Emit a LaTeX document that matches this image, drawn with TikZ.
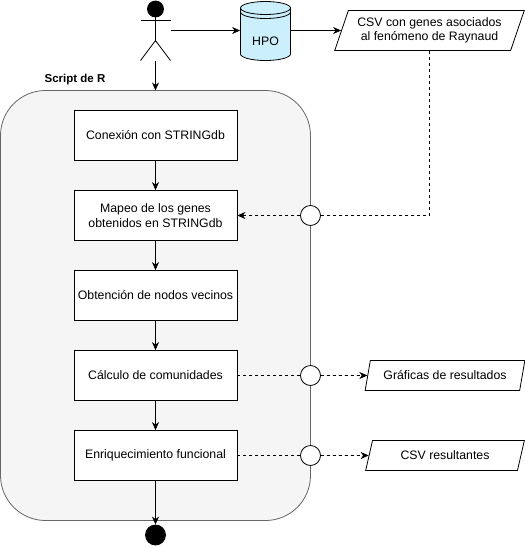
\documentclass[tikz,border=0pt]{standalone}
\usepackage{fontspec}
\setmainfont{Liberation Sans}
\usetikzlibrary{arrows.meta,shapes.geometric}
\tikzset{
flecha/.style={-{Stealth[length=8pt,width=7pt,inset=2.5pt]}},
linea/.style={dashed,dash pattern=on 3pt off 3pt},
caja/.style={draw,fill=white,minimum width=163pt,minimum height=50pt,inner sep=0pt,align=center},
datos/.style={draw,fill=white,trapezium,trapezium left angle=65,trapezium right angle=115,trapezium stretches=true,inner sep=0pt,align=center},
cruce/.style={draw,circle,fill=white,minimum size=20pt,inner sep=0pt},
negro/.style={draw,circle,fill=black,inner sep=0pt}
}
\begin{document}
\begin{tikzpicture}[x=1pt,y=-1pt,font=\fontsize{12.3}{14.5}\selectfont,line width=0.8pt]
\useasboundingbox (0,0) rectangle (525,547);

\draw[draw=black!60,fill=black!4,rounded corners=45pt] (0.5,90.5) rectangle (310.5,520.5);
\node[font=\fontsize{11.5}{13}\selectfont\bfseries] (titulo) at (75,80) {Script de R};

\node[negro,minimum size=16pt] (cabeza) at (155.5,9) {};
\coordinate (cadera) at (155.5,40.5);
\coordinate (brazoi) at (140.5,20.5);
\coordinate (brazod) at (170.5,20.5);
\coordinate (piei) at (140.5,60.5);
\coordinate (pied) at (170.5,60.5);
\coordinate (base) at (155.5,60.5);
\coordinate (manos) at (170.5,30.5);
\coordinate (entrada) at (155.5,90.5);
\draw (cabeza) -- (cadera);
\draw (brazoi) -- (brazod);
\draw (piei) -- (cadera) -- (pied);

\node[minimum width=50pt,minimum height=60pt,inner sep=0pt] (hpo) at (265.5,30.5) {};
\draw[fill=cyan!20] (240.5,8) arc[start angle=180,delta angle=180,x radius=25,y radius=6.5] -- (290.5,54) arc[start angle=0,delta angle=-180,x radius=25,y radius=-6.5] -- cycle;
\draw (240.5,8) arc[start angle=180,delta angle=-180,x radius=25,y radius=6.5];
\draw (240.5,12) arc[start angle=180,delta angle=-180,x radius=25,y radius=6.5];
\node (hpotexto) at (265.5,41) {HPO};

\node[datos,minimum width=190pt,minimum height=40pt] (csv) at (429.5,30.5) {CSV con genes asociados\\al fenómeno de Raynaud};
\node[datos,minimum width=160pt,minimum height=30pt] (graficas) at (445,375.5) {Gráficas de resultados};
\node[datos,minimum width=160pt,minimum height=30pt] (salida) at (445,455.5) {CSV resultantes};

\node[caja] (conexion) at (155.5,135.5) {Conexión con STRINGdb};
\node[caja] (mapeo) at (155.5,215.5) {Mapeo de los genes\\obtenidos en STRINGdb};
\node[caja] (vecinos) at (155.5,295.5) {Obtención de nodos vecinos};
\node[caja] (comunidades) at (155.5,375.5) {Cálculo de comunidades};
\node[caja] (enriquecimiento) at (155.5,455.5) {Enriquecimiento funcional};

\node[cruce] (cruce1) at (310.5,215.5) {};
\node[cruce] (cruce2) at (310.5,375.5) {};
\node[cruce] (cruce3) at (310.5,455.5) {};
\node[negro,minimum size=20pt] (fin) at (155.5,535) {};

\draw[flecha] (manos) -- (hpo.west |- manos);
\draw[flecha] (hpo.east |- manos) -- (csv.west |- manos);
\draw[flecha] (base) -- (entrada);
\draw[flecha] (conexion) -- (mapeo);
\draw[flecha] (mapeo) -- (vecinos);
\draw[flecha] (vecinos) -- (comunidades);
\draw[flecha] (comunidades) -- (enriquecimiento);
\draw[flecha] (enriquecimiento) -- (fin);

\draw[linea] (csv.south) |- (cruce1);
\draw[linea,flecha] (cruce1) -- (mapeo);
\draw[linea] (comunidades) -- (cruce2);
\draw[linea,flecha] (cruce2) -- (graficas);
\draw[linea] (enriquecimiento) -- (cruce3);
\draw[linea,flecha] (cruce3) -- (salida);
\end{tikzpicture}
\end{document}
